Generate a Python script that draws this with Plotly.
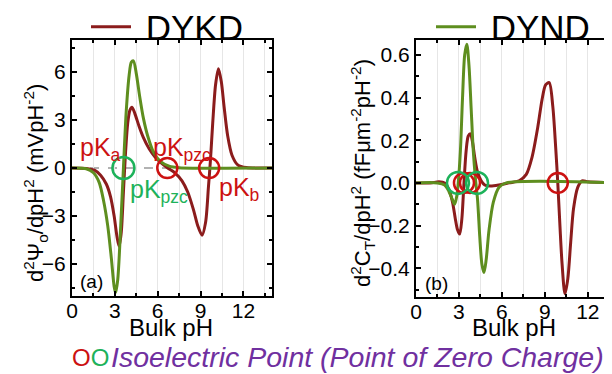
import plotly.graph_objects as go
from plotly.subplots import make_subplots

# ---------------- data ----------------
# (a) d2Psi/dpH2 (mV pH^-2)
ph_a_kd = [0, 1.0, 1.6, 2.0, 2.4, 2.7, 2.95, 3.15, 3.3, 3.45, 3.6, 3.75, 3.9, 4.05, 4.2,
           4.4, 4.7, 5.0, 5.4, 5.8, 6.2, 6.7, 7.2, 7.7, 8.1, 8.5, 8.8, 9.1, 9.35, 9.55,
           9.7, 9.85, 10.05, 10.25, 10.45, 10.65, 10.9, 11.2, 11.6, 12.2, 14]
v_a_kd = [0, -0.03, -0.15, -0.45, -1.0, -1.8, -3.0, -4.3, -4.9, -4.0, -1.5, 1.0, 2.8, 3.6, 3.8,
          3.4, 2.6, 1.9, 1.2, 0.7, 0.35, 0, -0.3, -0.8, -1.5, -2.6, -3.6, -4.2, -3.4, -1.2,
          0.6, 2.8, 5.2, 6.2, 5.4, 3.8, 2.0, 0.8, 0.2, 0.03, 0]

ph_a_nd = [0, 1.0, 1.5, 1.9, 2.2, 2.5, 2.75, 2.95, 3.05, 3.2, 3.4, 3.6, 3.8, 4.0, 4.15,
           4.3, 4.5, 4.75, 5.0, 5.3, 5.7, 6.2, 6.8, 7.5, 14]
v_a_nd = [0, -0.05, -0.3, -0.9, -2.0, -3.6, -5.6, -7.4, -7.8, -7.0, -3.8, 0, 3.6, 5.8, 6.6,
          6.7, 5.9, 4.4, 3.1, 2.0, 1.0, 0.4, 0.12, 0.02, 0]

# (b) d2C_T/dpH2 (fF um^-2 pH^-2)
ph_b_kd = [0, 1.0, 1.6, 2.0, 2.3, 2.55, 2.75, 2.9, 3.05, 3.2, 3.35, 3.5, 3.65, 3.8, 3.95,
           4.1, 4.3, 4.55, 4.8, 5.2, 5.8, 6.5, 7.2, 7.7, 8.1, 8.5, 8.8, 9.05, 9.3, 9.55,
           9.75, 9.9, 10.05, 10.2, 10.4, 10.6, 10.8, 11.0, 11.3, 11.6, 12, 14]
v_b_kd = [0, 0, 0.005, 0, -0.03, -0.09, -0.17, -0.22, -0.24, -0.17, 0, 0.15, 0.22, 0.23, 0.19,
          0.12, 0.05, 0.01, -0.01, -0.015, -0.01, 0, 0.01, 0.04, 0.12, 0.26, 0.39, 0.46, 0.47, 0.36,
          0.17, 0, -0.2, -0.38, -0.52, -0.45, -0.28, -0.12, -0.02, 0.01, 0.005, 0]

ph_b_nd = [0, 1.5, 2.0, 2.3, 2.55, 2.7, 2.85, 2.95, 3.1, 3.25, 3.4, 3.55, 3.7, 3.85, 4.0,
           4.15, 4.3, 4.45, 4.6, 4.75, 4.9, 5.1, 5.4, 5.8, 6.3, 14]
v_b_nd = [0, 0, -0.01, -0.04, -0.08, -0.1, -0.06, 0.0, 0.15, 0.4, 0.6, 0.65, 0.55, 0.35, 0.15,
          0.02, -0.08, -0.25, -0.38, -0.42, -0.36, -0.22, -0.09, -0.02, 0, 0]

# isoelectric points (pH where curves cross zero)
iep_a_red = [6.67, 9.6]
iep_a_green = [3.6]
iep_b_red = [3.35, 3.77, 9.9]
iep_b_green = [2.93, 4.26]

x_ticks = [0, 3, 6, 9, 12]
ya_ticks = [-6, -3, 0, 3, 6]
yb_ticks = [-0.4, -0.2, 0.0, 0.2, 0.4, 0.6]

# ---------------- style ----------------
RED = "#8B1C1C"
GREEN = "#5E8E1F"
CRED = "#CC1111"
CGREEN = "#1DB25A"
PURPLE = "#7030A0"
FONT = "Arial, Liberation Sans, sans-serif"

W, H = 612, 374
OFF = 8  # page body margin
def px(x):
    return (x - OFF) / W
def py(y):
    return 1 - (y - OFF) / H

fig = make_subplots(rows=1, cols=2)
fig.update_layout(width=W, height=H, margin=dict(l=0, r=0, t=0, b=0, autoexpand=False),
                  paper_bgcolor="white", plot_bgcolor="white",
                  font=dict(family=FONT, color="black"))

fig.update_xaxes(domain=[px(72), px(272)], row=1, col=1)
fig.update_xaxes(domain=[px(416), px(616.5)], row=1, col=2)
fig.update_yaxes(domain=[py(296), py(40)], row=1, col=1)
fig.update_yaxes(domain=[py(297), py(40)], row=1, col=2)

line_w = 3
fig.add_trace(go.Scatter(x=ph_a_kd, y=v_a_kd, mode="lines", name="\u00a0DYKD",
                         line=dict(color=RED, width=line_w, shape="spline", smoothing=0.8),
                         legend="legend"), row=1, col=1)
fig.add_trace(go.Scatter(x=ph_a_nd, y=v_a_nd, mode="lines", name="DYND", showlegend=False,
                         line=dict(color=GREEN, width=line_w, shape="spline", smoothing=0.8)),
              row=1, col=1)
fig.add_trace(go.Scatter(x=ph_b_kd, y=v_b_kd, mode="lines", name="DYKD", showlegend=False,
                         line=dict(color=RED, width=line_w, shape="spline", smoothing=0.8)),
              row=1, col=2)
fig.add_trace(go.Scatter(x=ph_b_nd, y=v_b_nd, mode="lines", name="\u00a0DYND",
                         line=dict(color=GREEN, width=line_w, shape="spline", smoothing=0.8),
                         legend="legend2"), row=1, col=2)

def circles(xs, color, size, row, col):
    fig.add_trace(go.Scatter(x=xs, y=[0] * len(xs), mode="markers", showlegend=False,
                             marker=dict(symbol="circle-open", size=size,
                                         line=dict(color=color, width=2.5), color=color)),
                  row=row, col=col)

circles(iep_a_red, CRED, 20, 1, 1)
circles(iep_a_green, CGREEN, 22, 1, 1)
circles(iep_b_red, CRED, 20, 1, 2)
circles(iep_b_green, CGREEN, 22, 1, 2)

fig.add_hline(y=0, line=dict(color="#999999", width=1.5, dash="dash"), layer="below",
              row=1, col=1)

axis_common = dict(showline=True, linewidth=2, linecolor="black", ticks="inside",
                   ticklen=5, tickwidth=1.5, tickcolor="black", zeroline=False,
                   automargin=False, mirror="ticks",
                   tickfont=dict(size=21, family=FONT, color="black"))

for c in (1, 2):
    fig.update_xaxes(range=[0, 14], tickvals=x_ticks, showgrid=True,
                     gridcolor="#e6e6e6", gridwidth=1, ticklabelstandoff=-5,
                     minor=dict(dtick=1.5, tick0=0, ticks="inside", ticklen=3,
                                tickcolor="black", showgrid=True, gridcolor="#e6e6e6"),
                     row=1, col=c, **axis_common)

fig.update_yaxes(range=[-8, 8], tickvals=ya_ticks, showgrid=False,
                 minor=dict(dtick=1.5, tick0=0, ticks="inside", ticklen=3, tickcolor="black"),
                 row=1, col=1, **axis_common)
fig.update_yaxes(range=[-0.535, 0.67], tickvals=yb_ticks, tickformat=".1f",
                 showgrid=False,
                 minor=dict(dtick=0.1, tick0=0, ticks="inside", ticklen=3, tickcolor="black"),
                 row=1, col=2, **axis_common)

def note(x, y, text, size, color="black", angle=0):
    fig.add_annotation(xref="paper", yref="paper", x=px(x), y=py(y), text=text,
                       showarrow=False, xanchor="center", yanchor="middle",
                       textangle=angle, font=dict(size=size, color=color, family=FONT))

# axis titles
note(171, 327, "Bulk pH", 24)
note(514, 327, "Bulk pH", 24)
note(35, 183, "d<sup>2</sup>Ψ<sub>o</sub>/dpH<sup>2</sup> (mVpH<sup>-2</sup>)", 22, angle=-90)
note(362, 173, "d<sup>2</sup>C<sub>T</sub>/dpH<sup>2</sup> (fFμm<sup>-2</sup>pH<sup>-2</sup>)",
     22, angle=-90)

# panel labels
note(91, 281, "(a)", 19)
note(436, 283, "(b)", 19)

# pK labels (panel a)
note(101, 149, "pK<sub>a</sub>", 25, CRED)
note(182, 149, "pK<sub>pzc</sub>", 25, CRED)
note(159, 191, "pK<sub>pzc</sub>", 25, CGREEN)
note(239, 189, "pK<sub>b</sub>", 25, CRED)

# bottom caption
note(90, 357, f"<span style='color:{CRED}'>O</span><span style='color:{CGREEN}'>O</span>",
     24, PURPLE)
note(357, 357, "<i>Isoelectric Point (Point of Zero Charge)</i>", 28.5, PURPLE)

# legends
leg_common = dict(orientation="h", bgcolor="rgba(0,0,0,0)", borderwidth=0,
                  font=dict(size=35, family=FONT, color="black"),
                  xanchor="left", yanchor="middle", itemwidth=40)
fig.update_layout(legend=dict(x=px(86), y=py(27), **leg_common),
                  legend2=dict(x=px(431), y=py(27), **leg_common))

fig.write_html("out.html")
